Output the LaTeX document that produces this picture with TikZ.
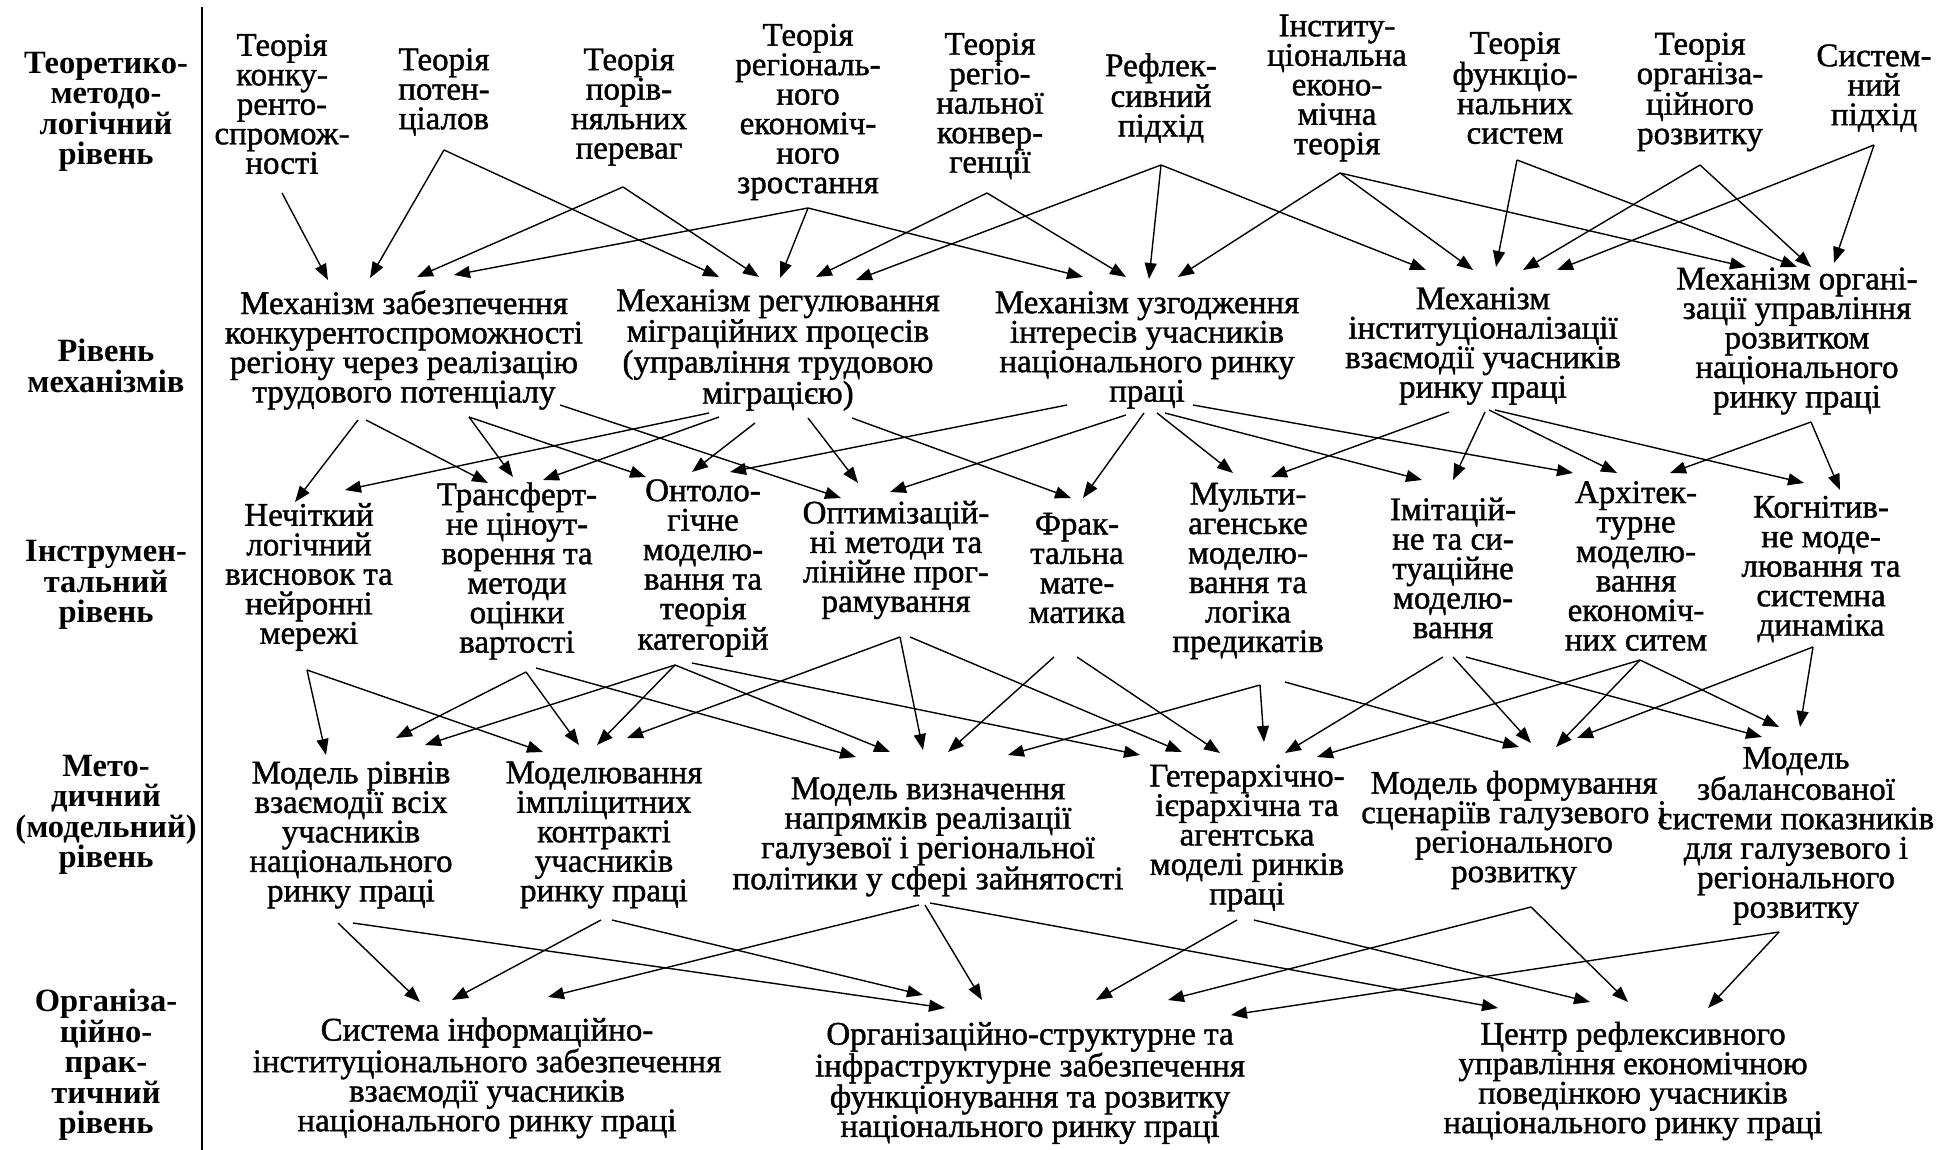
\documentclass[tikz,border=0pt]{standalone}
\usepackage{fontspec}
\setmainfont{Liberation Serif}
\newfontfamily\bodyfont{Liberation Serif}[FakeBold=1.2]
\usetikzlibrary{arrows.meta}
\tikzset{
  txt/.style={align=center, inner sep=0pt, font=\bodyfont\fontsize{33}{29.5}\selectfont},
  lvl/.style={align=center, inner sep=0pt, font=\fontsize{32.5}{30.5}\selectfont\bfseries},
  arr/.style={line width=1.4pt, -{Triangle[length=16pt,width=12pt]}},
}
% link: source, dx, dy (from source centre), target, dx, dy (from target centre)
\newcommand\lnk[6]{\draw[arr] ([shift={(#2,#3)}]#1.center) -- ([shift={(#5,#6)}]#4.center);}
\begin{document}
\begin{tikzpicture}[x=1pt, y=-1pt]
\useasboundingbox (0,0) rectangle (1959,1150);
\fill[white] (0,0) rectangle (1959,1150);

% level captions and divider
\node[lvl] (L1) at (106,112) {Теоретико-\\методо-\\логічний\\рівень};
\node[lvl] (L2) at (106,366) {Рівень\\механізмів};
\node[lvl] (L3) at (106,585) {Інструмен-\\тальний\\рівень};
\node[lvl] (L4) at (106,815) {Мето-\\дичний\\(модельний)\\рівень};
\node[lvl] (L5) at (106,1065) {Організа-\\ційно-\\прак-\\тичний\\рівень};
\draw[line width=2pt] (202,7) -- (202,1150);

% theories
\node[txt] (T1) at (282,104) {Теорія\\конку-\\ренто-\\спромож-\\ності};
\node[txt] (T2) at (444,92) {Теорія\\потен-\\ціалов};
\node[txt] (T3) at (629,107) {Теорія\\порів-\\няльних\\переваг};
\node[txt] (T4) at (808,112) {Теорія\\регіональ-\\ного\\економіч-\\ного\\зростання};
\node[txt] (T5) at (990,106) {Теорія\\регіо-\\нальної\\конвер-\\генції};
\node[txt] (T6) at (1161,98) {Рефлек-\\сивний\\підхід};
\node[txt] (T7) at (1337,88) {Інститу-\\ціональна\\еконо-\\мічна\\теорія};
\node[txt] (T8) at (1515,88) {Теорія\\функціо-\\нальних\\систем};
\node[txt] (T9) at (1700,92) {Теорія\\організа-\\ційного\\розвитку};
\node[txt] (T10) at (1874,88) {Систем-\\ний\\підхід};

% mechanisms
\node[txt] (M1) at (404,350) {Механізм забезпечення\\конкурентоспроможності\\регіону через реалізацію\\трудового потенціалу};
\node[txt] (M2) at (778,350) {Механізм регулювання\\міграційних процесів\\(управління трудовою\\міграцією)};
\node[txt] (M3) at (1147,350) {Механізм узгодження\\інтересів учасників\\національного ринку\\праці};
\node[txt] (M4) at (1483,346) {Механізм\\інституціоналізації\\взаємодії учасників\\ринку праці};
\node[txt] (M5) at (1797,341) {Механізм органі-\\зації управління\\розвитком\\національного\\ринку праці};

% instruments
\node[txt] (I1) at (309,577) {Нечіткий\\логічний\\висновок та\\нейронні\\мережі};
\node[txt] (I2) at (517,571) {Трансферт-\\не ціноут-\\ворення та\\методи\\оцінки\\вартості};
\node[txt] (I3) at (703,568) {Онтоло-\\гічне\\моделю-\\вання та\\теорія\\категорій};
\node[txt] (I4) at (896,560) {Оптимізацій-\\ні методи та\\лінійне прог-\\рамування};
\node[txt] (I5) at (1077,568) {Фрак-\\тальна\\мате-\\матика};
\node[txt] (I6) at (1248,571) {Мульти-\\агенське\\моделю-\\вання та\\логіка\\предикатів};
\node[txt] (I7) at (1453,568) {Імітацій-\\не та си-\\туаційне\\моделю-\\вання};
\node[txt] (I8) at (1636,566) {Архітек-\\турне\\моделю-\\вання\\економіч-\\них ситем};
\node[txt] (I9) at (1821,569) {Когнітив-\\не моде-\\лювання та\\системна\\динаміка};

% models
\node[txt] (D1) at (351,835) {Модель рівнів\\взаємодії всіх\\учасників\\національного\\ринку праці};
\node[txt] (D2) at (604,835) {Моделювання\\імпліцитних\\контракті\\учасників\\ринку праці};
\node[txt] (D3) at (928,837) {Модель визначення\\напрямків реалізації\\галузевої і регіональної\\політики у сфері зайнятості};
\node[txt] (D4) at (1247,838) {Гетерархічно-\\ієрархічна та\\агентська\\моделі ринків\\праці};
\node[txt] (D5) at (1514,830) {Модель формування\\сценаріїв галузевого і\\регіонального\\розвитку};
\node[txt] (D6) at (1796,836) {Модель\\збалансованої\\системи показників\\для галузевого і\\регіонального\\розвитку};

% practical level
\node[txt] (B1) at (487,1078) {Система інформаційно-\\інституціонального забезпечення\\взаємодії учасників\\національного ринку праці};
\node[txt] (B2) at (1030,1083) {Організаційно-структурне та\\інфраструктурне забезпечення\\функціонування та розвитку\\національного ринку праці};
\node[txt] (B3) at (1633,1081) {Центр рефлексивного\\управління економічною\\поведінкою учасників\\національного ринку праці};

% theories -> mechanisms
\lnk{T1}{0}{89}{M1}{-76}{-70}
\lnk{T2}{0}{58}{M1}{-34}{-72}
\lnk{T2}{0}{58}{M2}{-59}{-73}
\lnk{T3}{-6}{80}{M1}{13}{-73}
\lnk{T3}{-6}{80}{M2}{-19}{-73}
\lnk{T4}{0}{96}{M1}{50}{-75}
\lnk{T4}{0}{96}{M2}{2}{-72}
\lnk{T4}{0}{96}{M3}{-64}{-73}
\lnk{T5}{-3}{87}{M2}{38}{-73}
\lnk{T5}{-3}{87}{M3}{-21}{-73}
\lnk{T6}{0}{67}{M2}{78}{-70}
\lnk{T6}{0}{67}{M3}{2}{-71}
\lnk{T6}{0}{67}{M4}{-57}{-76}
\lnk{T7}{3}{85}{M3}{31}{-73}
\lnk{T7}{3}{85}{M4}{-10}{-76}
\lnk{T7}{3}{85}{M5}{-51}{-74}
\lnk{T8}{2}{72}{M4}{13}{-79}
\lnk{T8}{2}{72}{M5}{0}{-74}
\lnk{T9}{0}{73}{M4}{40}{-76}
\lnk{T9}{0}{73}{M5}{14}{-74}
\lnk{T10}{0}{57}{M4}{74}{-76}
\lnk{T10}{0}{57}{M5}{37}{-78}

% mechanisms -> instruments
\lnk{M1}{-46}{70}{I1}{-14}{-75}
\lnk{M1}{-38}{70}{I2}{-29}{-88}
\lnk{M1}{65}{67}{I2}{-4}{-94}
\lnk{M1}{65}{67}{I3}{-57}{-91}
\lnk{M1}{156}{55}{I4}{-55}{-62}
\lnk{M2}{-69}{63}{I1}{36}{-87}
\lnk{M2}{-59}{67}{I2}{26}{-91}
\lnk{M2}{-23}{73}{I3}{-11}{-96}
\lnk{M2}{30}{68}{I4}{-38}{-77}
\lnk{M2}{74}{68}{I5}{-6}{-70}
\lnk{M3}{-80}{55}{I3}{27}{-96}
\lnk{M3}{-21}{65}{I4}{-6}{-68}
\lnk{M3}{-3}{63}{I5}{6}{-70}
\lnk{M3}{10}{63}{I6}{-15}{-98}
\lnk{M3}{18}{63}{I7}{-31}{-88}
\lnk{M3}{46}{55}{I8}{-63}{-93}
\lnk{M4}{-34}{66}{I6}{23}{-94}
\lnk{M4}{2}{66}{I7}{0}{-88}
\lnk{M4}{6}{64}{I8}{-19}{-93}
\lnk{M4}{12}{64}{I9}{-17}{-86}
\lnk{M5}{14}{81}{I8}{34}{-93}
\lnk{M5}{14}{81}{I9}{19}{-79}

% instruments -> models
\lnk{I1}{-2}{93}{D1}{-25}{-80}
\lnk{I1}{-2}{93}{D2}{-61}{-83}
\lnk{I2}{9}{101}{D1}{45}{-97}
\lnk{I2}{9}{101}{D2}{-25}{-90}
\lnk{I2}{19}{97}{D3}{-72}{-80}
\lnk{I3}{-28}{97}{D1}{74}{-90}
\lnk{I3}{-28}{97}{D2}{-7}{-90}
\lnk{I3}{-28}{97}{D3}{-38}{-85}
\lnk{I3}{-11}{95}{D4}{-107}{-83}
\lnk{I4}{4}{77}{D2}{23}{-97}
\lnk{I4}{4}{77}{D3}{-5}{-87}
\lnk{I4}{14}{77}{D4}{-65}{-86}
\lnk{I5}{-23}{89}{D3}{20}{-85}
\lnk{I5}{0}{89}{D4}{-27}{-85}
\lnk{I6}{12}{114}{D3}{80}{-82}
\lnk{I6}{12}{114}{D4}{17}{-96}
\lnk{I6}{37}{111}{D5}{5}{-83}
\lnk{I7}{-10}{89}{D4}{38}{-85}
\lnk{I7}{0}{89}{D5}{17}{-87}
\lnk{I7}{13}{89}{D6}{-34}{-99}
\lnk{I8}{4}{94}{D4}{70}{-81}
\lnk{I8}{4}{94}{D5}{42}{-83}
\lnk{I8}{4}{94}{D6}{-17}{-109}
\lnk{I9}{-8}{78}{D5}{63}{-92}
\lnk{I9}{-8}{78}{D6}{4}{-109}

% models -> practical level
\lnk{D1}{-13}{88}{B1}{-67}{-76}
\lnk{D1}{2}{88}{B2}{-85}{-75}
\lnk{D2}{-3}{85}{B1}{-35}{-78}
\lnk{D2}{8}{85}{B2}{-107}{-88}
\lnk{D3}{-9}{68}{B1}{61}{-81}
\lnk{D3}{-3}{68}{B2}{-48}{-83}
\lnk{D3}{2}{66}{B3}{-135}{-73}
\lnk{D4}{-10}{82}{B2}{66}{-83}
\lnk{D4}{7}{82}{B3}{-43}{-79}
\lnk{D5}{17}{77}{B2}{138}{-83}
\lnk{D5}{17}{77}{B3}{-5}{-79}
\lnk{D6}{-17}{96}{B2}{201}{-68}
\lnk{D6}{-17}{96}{B3}{75}{-73}
\end{tikzpicture}
\end{document}
